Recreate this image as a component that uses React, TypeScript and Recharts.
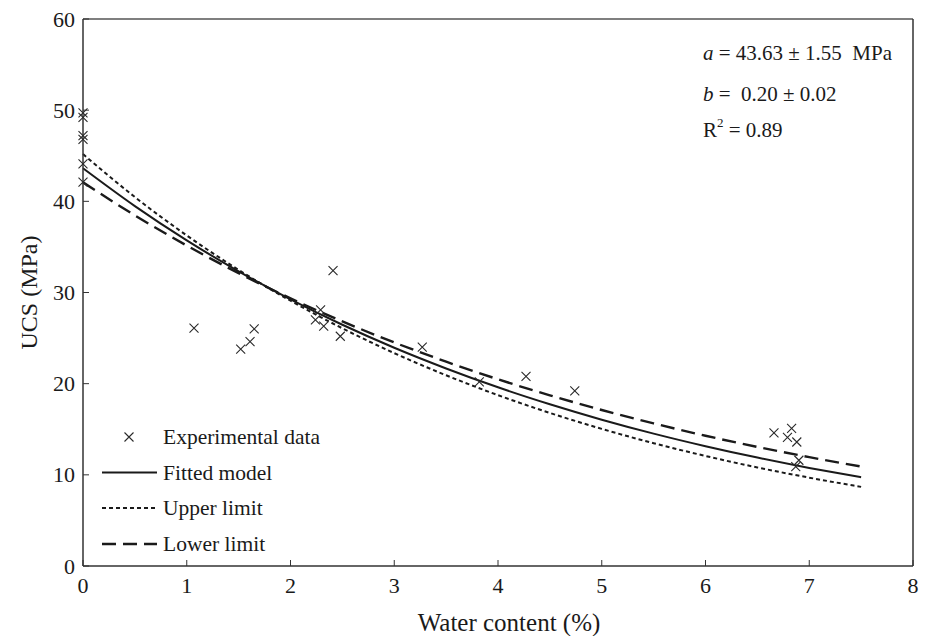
import React from 'react';
import { ComposedChart, Line, Scatter, XAxis, YAxis, ReferenceLine, Customized } from 'recharts';

const waterContent = [0, 0.5, 1, 1.5, 2, 2.5, 3, 3.5, 4, 4.5, 5, 5.5, 6, 6.5, 7, 7.5];
const fittedModel = [43.63, 39.48, 35.72, 32.32, 29.25, 26.46, 23.94, 21.67, 19.6, 17.74, 16.05, 14.52, 13.14, 11.89, 10.76, 9.74];
const upperLimit = [45.18, 40.47, 36.26, 32.48, 29.1, 26.07, 23.35, 20.92, 18.74, 16.79, 15.04, 13.47, 12.07, 10.81, 9.69, 8.68];
const lowerLimit = [42.08, 38.46, 35.15, 32.12, 29.36, 26.83, 24.52, 22.41, 20.48, 18.72, 17.11, 15.64, 14.29, 13.06, 11.94, 10.91];

const expWater = [0, 0, 0, 0, 0, 0, 1.07, 1.52, 1.61, 1.65, 2.24, 2.29, 2.32, 2.41, 2.48, 3.27, 3.82, 4.27, 4.74, 6.66, 6.79, 6.83, 6.88, 6.9, 6.87];
const expUcs = [49.7, 49.2, 47.2, 46.8, 44.1, 42.1, 26.1, 23.8, 24.6, 26.0, 27.0, 28.1, 26.3, 32.4, 25.2, 24.0, 20.2, 20.8, 19.2, 14.6, 14.1, 15.1, 13.6, 11.6, 10.9];

const xTicks = [0, 1, 2, 3, 4, 5, 6, 7, 8];
const yTicks = [0, 10, 20, 30, 40, 50, 60];

const curveData = waterContent.map((w, i) => ({ w, fit: fittedModel[i], upper: upperLimit[i], lower: lowerLimit[i] }));
const expData = expWater.map((w, i) => ({ w, ucs: expUcs[i] }));

const FONT = '"Liberation Serif", "Times New Roman", serif';
const INK = '#1a1a1a';
const AXIS = '#333';
const fontStyle = { fontFamily: FONT };

const XTick = (props: any) => {
  const { x, y, payload } = props;
  return (
    <g>
      <line x1={x} x2={x} y1={y} y2={y - 6} stroke={AXIS} strokeWidth={1} />
      <text x={x} y={y + 19} textAnchor="middle" dominantBaseline="central" fontFamily={FONT} style={fontStyle} fontSize={22} fill={INK}>
        {payload.value}
      </text>
    </g>
  );
};

const YTick = (props: any) => {
  const { x, y, payload } = props;
  return (
    <g>
      <line x1={x} x2={x + 6} y1={y} y2={y} stroke={AXIS} strokeWidth={1} />
      <text x={x - 8} y={y} textAnchor="end" dominantBaseline="central" fontFamily={FONT} style={fontStyle} fontSize={22} fill={INK}>
        {payload.value}
      </text>
    </g>
  );
};

const Cross = (props: any) => {
  const { cx, cy } = props;
  const s = 4.5;
  return (
    <path
      d={`M${cx - s},${cy - s}L${cx + s},${cy + s}M${cx - s},${cy + s}L${cx + s},${cy - s}`}
      stroke="#2a2a2a"
      strokeWidth={1.1}
      fill="none"
    />
  );
};

const Overlay = () => {
  const ly = [429, 464.5, 500, 536];
  const tx = 155;
  const textProps = { fontFamily: FONT, style: fontStyle, fontSize: 21.5, fill: INK, dominantBaseline: 'central' as const };
  const noteProps = { fontFamily: FONT, fontSize: 21, fill: INK, dominantBaseline: 'central' as const };
  const s = 4.5;
  return (
    <g>
      <path d={`M${121 - s},${ly[0] - s}L${121 + s},${ly[0] + s}M${121 - s},${ly[0] + s}L${121 + s},${ly[0] - s}`} stroke="#2a2a2a" strokeWidth={1.1} />
      <text x={tx} y={ly[0]} {...textProps}>Experimental data</text>
      <line x1={94} x2={149} y1={ly[1]} y2={ly[1]} stroke={INK} strokeWidth={2} />
      <text x={tx} y={ly[1]} {...textProps}>Fitted model</text>
      <line x1={94} x2={149} y1={ly[2]} y2={ly[2]} stroke={INK} strokeWidth={2} strokeDasharray="4 3" />
      <text x={tx} y={ly[2]} {...textProps}>Upper limit</text>
      <line x1={94} x2={149} y1={ly[3]} y2={ly[3]} stroke={INK} strokeWidth={2.4} strokeDasharray="14 7" />
      <text x={tx} y={ly[3]} {...textProps}>Lower limit</text>

      <text x={695} y={45} {...noteProps} style={{ fontFamily: FONT, whiteSpace: 'pre' }}>
        <tspan fontStyle="italic">a</tspan>
        <tspan> = 43.63 ± 1.55  MPa</tspan>
      </text>
      <text x={695} y={86} {...noteProps} style={{ fontFamily: FONT, whiteSpace: 'pre' }}>
        <tspan fontStyle="italic">b</tspan>
        <tspan> =  0.20 ± 0.02</tspan>
      </text>
      <text x={695} y={122} {...noteProps} style={fontStyle}>
        <tspan>R</tspan>
        <tspan fontSize={13} dy={-8}>2</tspan>
        <tspan dy={8}> = 0.89</tspan>
      </text>
    </g>
  );
};

export default function App() {
  return (
    <div style={{ fontFamily: FONT }}>
      <ComposedChart
        width={920}
        height={628}
        data={curveData}
        margin={{ top: 11, right: 15, left: 0, bottom: 0 }}
        style={{ fontFamily: FONT }}
      >
        <XAxis
          dataKey="w"
          type="number"
          domain={[0, 8]}
          ticks={xTicks}
          interval={0}
          height={70}
          tickSize={0}
          tickMargin={0}
          tickLine={false}
          tick={<XTick />}
          axisLine={{ stroke: AXIS, strokeWidth: 1.5 }}
          label={{
            value: 'Water content (%)',
            position: 'center',
            dx: 11,
            dy: 21,
            style: { fontFamily: FONT, fontSize: 25, fill: INK },
          }}
        />
        <YAxis
          type="number"
          domain={[0, 60]}
          ticks={yTicks}
          interval={0}
          width={75}
          tickSize={0}
          tickMargin={0}
          tickLine={false}
          tick={<YTick />}
          axisLine={{ stroke: AXIS, strokeWidth: 1.5 }}
          label={{
            value: 'UCS (MPa)',
            angle: -90,
            position: 'center',
            dx: -17,
            style: { fontFamily: FONT, fontSize: 24, fill: INK, textAnchor: 'middle' },
          }}
        />
        <ReferenceLine y={60} stroke="#555" strokeWidth={1.5} />
        <ReferenceLine x={8} stroke={AXIS} strokeWidth={1.5} />
        <Line type="monotone" dataKey="fit" stroke={INK} strokeWidth={2} dot={false} isAnimationActive={false} />
        <Line type="monotone" dataKey="upper" stroke={INK} strokeWidth={2} strokeDasharray="4 3" dot={false} isAnimationActive={false} />
        <Line type="monotone" dataKey="lower" stroke={INK} strokeWidth={2.4} strokeDasharray="14 7" dot={false} isAnimationActive={false} />
        <Scatter data={expData} dataKey="ucs" shape={<Cross />} isAnimationActive={false} />
        <Customized component={<Overlay />} />
      </ComposedChart>
    </div>
  );
}
